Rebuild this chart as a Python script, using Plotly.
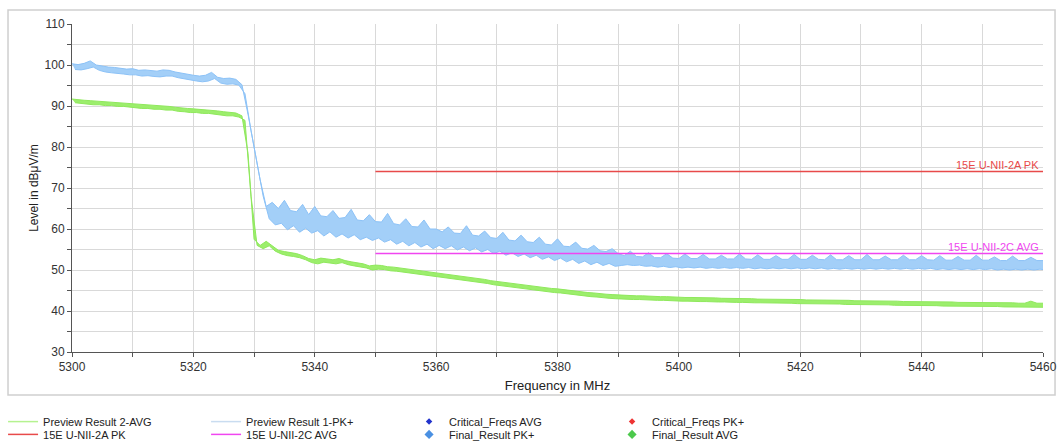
import plotly.graph_objects as go

freq = list(range(5300, 5461))

pk_upper = [
    100.3, 100.1, 100.4, 101.0, 100.0, 99.7, 99.5, 99.4, 99.2, 99.0,
    99.1, 98.7, 98.8, 98.6, 98.5, 98.8, 98.7, 98.3, 98.0, 97.7,
    97.5, 97.3, 97.5, 98.2, 97.0, 96.7, 96.8, 96.5, 95.2, 88.0,
    80.0, 72.0, 65.5, 66.5, 65.0, 67.0, 64.5, 64.2, 66.0, 63.5,
    65.5, 63.2, 63.0, 64.5, 62.6, 62.8, 64.8, 62.2, 62.0, 63.5,
    61.8, 61.7, 63.8, 61.3, 61.0, 62.5, 60.6, 60.5, 62.2, 60.0,
    60.0, 59.3, 60.5, 59.0, 58.9, 60.8, 58.5, 58.3, 59.5, 57.9,
    57.7, 59.2, 57.3, 57.1, 58.5, 56.9, 56.7, 58.0, 56.3, 56.1,
    57.6, 55.8, 55.7, 56.8, 55.3, 55.1, 56.0, 54.7, 54.5, 55.2,
    54.0, 53.5, 54.6, 53.3, 53.2, 54.2, 53.0, 53.0, 54.0, 52.9,
    52.8, 53.9, 52.8, 52.8, 53.8, 52.7, 52.7, 53.6, 52.7, 52.7,
    53.9, 52.7, 52.6, 53.7, 52.6, 52.6, 53.5, 52.6, 52.6, 53.8,
    52.6, 52.6, 53.6, 52.6, 52.5, 53.7, 52.5, 52.5, 53.5, 52.5,
    52.5, 53.8, 52.5, 52.5, 53.4, 52.5, 52.5, 53.6, 52.5, 52.5,
    53.5, 52.5, 52.4, 53.5, 52.4, 52.4, 53.3, 52.4, 52.4, 53.6,
    52.4, 52.4, 53.2, 52.3, 52.3, 53.4, 52.3, 52.3, 53.1, 52.3,
    52.3,
]
pk_lower = [
    98.9, 98.8, 99.1, 99.5, 98.7, 98.3, 98.1, 98.0, 97.8, 97.6,
    97.6, 97.3, 97.4, 97.2, 97.1, 97.3, 97.3, 96.9, 96.6, 96.3,
    96.1, 95.9, 96.1, 96.7, 95.6, 95.3, 95.4, 95.1, 93.0, 84.0,
    76.0, 68.0, 62.5, 61.0, 61.4, 59.8, 60.8, 59.2, 60.2, 59.0,
    59.6, 58.3, 59.3, 58.0, 58.8, 57.8, 58.6, 57.4, 58.0, 57.2,
    57.8, 56.8, 57.4, 56.3, 57.0, 55.9, 56.7, 55.6, 56.3, 55.2,
    56.0, 55.2, 55.9, 54.9, 55.6, 54.7, 55.4, 54.4, 55.0, 54.0,
    54.6, 53.6, 54.2, 53.3, 53.9, 53.0, 53.6, 52.6, 53.2, 52.3,
    52.9, 52.0, 52.6, 51.6, 52.2, 51.3, 51.9, 51.1, 51.6, 50.9,
    51.1, 51.3, 51.1, 51.2, 50.9, 51.0, 50.7, 50.9, 50.6, 50.8,
    50.5, 50.7, 50.5, 50.7, 50.4, 50.6, 50.4, 50.6, 50.4, 50.6,
    50.4, 50.6, 50.3, 50.5, 50.3, 50.5, 50.3, 50.5, 50.3, 50.5,
    50.3, 50.5, 50.3, 50.5, 50.2, 50.4, 50.2, 50.4, 50.2, 50.4,
    50.2, 50.4, 50.2, 50.4, 50.2, 50.4, 50.2, 50.4, 50.2, 50.4,
    50.2, 50.4, 50.1, 50.3, 50.1, 50.3, 50.1, 50.3, 50.1, 50.3,
    50.1, 50.3, 50.0, 50.2, 50.0, 50.2, 50.0, 50.2, 50.0, 50.2,
    50.0,
]

avg_upper = [
    91.7, 91.5, 91.4, 91.3, 91.2, 91.1, 91.0, 90.9, 90.8, 90.7,
    90.5, 90.4, 90.3, 90.2, 90.1, 90.0, 89.9, 89.7, 89.5, 89.4,
    89.3, 89.2, 89.1, 89.0, 88.8, 88.6, 88.5, 88.3, 87.6, 78.5,
    57.5, 56.0, 57.0, 55.8, 54.8, 54.5, 54.3, 54.0, 53.5, 52.8,
    52.5, 52.9, 52.7, 52.5, 52.8, 52.3, 52.0, 51.8, 51.5, 51.0,
    51.2, 51.1, 50.8, 50.7, 50.5, 50.3, 50.2, 50.0, 49.7, 49.5,
    49.3, 49.1, 48.9, 48.8, 48.5, 48.3, 48.1, 47.9, 47.7, 47.4,
    47.2, 47.0, 46.8, 46.6, 46.4, 46.2, 46.1, 45.9, 45.7, 45.5,
    45.4, 45.2, 45.0, 44.9, 44.7, 44.5, 44.4, 44.2, 44.1, 44.0,
    43.9, 43.8, 43.8, 43.7, 43.7, 43.6, 43.6, 43.5, 43.5, 43.4,
    43.4, 43.3, 43.3, 43.3, 43.2, 43.2, 43.2, 43.1, 43.1, 43.1,
    43.0, 43.0, 43.0, 42.9, 42.9, 42.9, 42.9, 42.8, 42.8, 42.8,
    42.8, 42.7, 42.7, 42.7, 42.7, 42.6, 42.6, 42.6, 42.6, 42.5,
    42.5, 42.5, 42.5, 42.4, 42.4, 42.4, 42.4, 42.3, 42.3, 42.3,
    42.3, 42.2, 42.2, 42.2, 42.2, 42.2, 42.1, 42.1, 42.1, 42.1,
    42.1, 42.0, 42.0, 42.0, 42.0, 42.0, 41.9, 41.9, 42.4, 41.9,
    41.9,
]
avg_lower = [
    90.8, 90.6, 90.5, 90.3, 90.3, 90.1, 90.1, 89.9, 89.9, 89.7,
    89.6, 89.4, 89.4, 89.2, 89.2, 89.0, 89.0, 88.7, 88.6, 88.4,
    88.4, 88.2, 88.2, 88.0, 87.9, 87.6, 87.6, 87.3, 86.5, 68.0,
    56.0, 55.2, 55.9, 54.6, 53.9, 53.5, 53.3, 53.0, 52.5, 51.8,
    51.5, 51.9, 51.7, 51.5, 51.8, 51.3, 51.0, 50.8, 50.5, 50.0,
    50.2, 50.1, 49.8, 49.7, 49.5, 49.3, 49.2, 49.0, 48.7, 48.5,
    48.3, 48.1, 47.9, 47.8, 47.5, 47.3, 47.1, 46.9, 46.7, 46.4,
    46.2, 46.0, 45.8, 45.6, 45.4, 45.2, 45.1, 44.9, 44.7, 44.5,
    44.4, 44.2, 44.0, 43.9, 43.7, 43.5, 43.4, 43.2, 43.1, 43.0,
    42.9, 42.9, 42.8, 42.8, 42.7, 42.7, 42.6, 42.6, 42.5, 42.5,
    42.4, 42.4, 42.3, 42.3, 42.3, 42.2, 42.2, 42.2, 42.1, 42.1,
    42.1, 42.0, 42.0, 42.0, 42.0, 41.9, 41.9, 41.9, 41.9, 41.8,
    41.8, 41.8, 41.8, 41.7, 41.7, 41.7, 41.7, 41.6, 41.6, 41.6,
    41.6, 41.5, 41.5, 41.5, 41.5, 41.4, 41.4, 41.4, 41.4, 41.3,
    41.3, 41.3, 41.3, 41.2, 41.2, 41.2, 41.2, 41.2, 41.1, 41.1,
    41.1, 41.1, 41.1, 41.0, 41.0, 41.0, 41.0, 41.0, 40.9, 40.9,
    40.9,
]

limit_freq = [5350, 5460]
limit_2a_pk = [74, 74]
limit_2c_avg = [54, 54]

x_ticks = list(range(5300, 5461, 10))
x_ticktext = [str(v) if (v - 5300) % 20 == 0 else "" for v in x_ticks]
y_ticks = list(range(30, 111, 5))
y_ticktext = [str(v) if v % 10 == 0 else "" for v in y_ticks]

C_GREEN = "#8fe85c"
C_GREEN_FILL = "#9cee6c"
C_BLUE = "#8cc2f7"
C_BLUE_FILL = "#a3cff8"
C_RED = "#e84a4a"
C_MAG = "#f046f0"
FONT = "Liberation Sans, Arial, sans-serif"

# lower envelope sampled half a step after the upper envelope
freq_lo = [f + 0.5 for f in freq]

fig = go.Figure()

# PK+ band
fig.add_trace(go.Scatter(x=freq_lo, y=pk_lower, mode="lines", line=dict(color=C_BLUE, width=1),
                         showlegend=False, hoverinfo="skip"))
fig.add_trace(go.Scatter(x=freq, y=pk_upper, mode="lines", line=dict(color=C_BLUE, width=1),
                         fill="tonexty", fillcolor=C_BLUE_FILL, showlegend=False))
# AVG band
fig.add_trace(go.Scatter(x=freq_lo, y=avg_lower, mode="lines", line=dict(color=C_GREEN, width=1),
                         showlegend=False, hoverinfo="skip"))
fig.add_trace(go.Scatter(x=freq, y=avg_upper, mode="lines", line=dict(color=C_GREEN, width=1),
                         fill="tonexty", fillcolor=C_GREEN_FILL, showlegend=False))

# limit lines
fig.add_trace(go.Scatter(x=limit_freq, y=limit_2a_pk, mode="lines", line=dict(color=C_RED, width=1.5),
                         showlegend=False))
fig.add_trace(go.Scatter(x=limit_freq, y=limit_2c_avg, mode="lines", line=dict(color=C_MAG, width=1.5),
                         showlegend=False))

# legend entries
def leg_line(name, color, legend):
    return go.Scatter(x=[None], y=[None], mode="lines", line=dict(color=color, width=1.5),
                      name=name, legend=legend)

def leg_marker(name, color, size, legend):
    return go.Scatter(x=[None], y=[None], mode="markers",
                      marker=dict(color=color, symbol="diamond", size=size),
                      name=name, legend=legend)

fig.add_trace(leg_line("Preview Result 2-AVG", "#b5f290", "legend"))
fig.add_trace(leg_line("Preview Result 1-PK+", "#c9dcf0", "legend"))
fig.add_trace(leg_marker("Critical_Freqs AVG", "#2233cc", 5, "legend"))
fig.add_trace(leg_marker("Critical_Freqs PK+", "#ee3333", 5, "legend"))
fig.add_trace(leg_line("15E U-NII-2A PK", C_RED, "legend2"))
fig.add_trace(leg_line("15E U-NII-2C AVG", C_MAG, "legend2"))
fig.add_trace(leg_marker("Final_Result PK+", "#4a90e2", 7, "legend2"))
fig.add_trace(leg_marker("Final_Result AVG", "#4cc94c", 7, "legend2"))

fig.add_annotation(x=limit_freq[1], y=limit_2a_pk[1], xref="x", yref="y", text="15E U-NII-2A PK",
                   showarrow=False, xanchor="right", yanchor="bottom", yshift=-1, xshift=-2,
                   font=dict(family=FONT, size=11, color=C_RED))
fig.add_annotation(x=limit_freq[1], y=limit_2c_avg[1], xref="x", yref="y", text="15E U-NII-2C AVG",
                   showarrow=False, xanchor="right", yanchor="bottom", yshift=-1, xshift=-2,
                   font=dict(family=FONT, size=11, color=C_MAG))

fig.add_shape(type="rect", xref="paper", yref="paper", x0=-0.0659, x1=1.0124, y0=-0.131, y1=1.0427,
              line=dict(color="#cfcfcf", width=1.5), layer="below")

axis_common = dict(showgrid=True, gridcolor="#d9d9d9", gridwidth=1, showline=True,
                   linecolor="#555555", linewidth=1, ticks="outside", ticklen=4,
                   tickcolor="#555555", zeroline=False, automargin=False,
                   tickfont=dict(family=FONT, size=12, color="#333333"))

fig.update_xaxes(range=[5300, 5460], tickvals=x_ticks, ticktext=x_ticktext,
                 title=dict(text="Frequency in MHz", font=dict(family=FONT, size=13, color="#222222"),
                            standoff=7),
                 **axis_common)
fig.update_yaxes(range=[30, 110], tickvals=y_ticks, ticktext=y_ticktext,
                 title=dict(text="Level in dBμV/m", font=dict(family=FONT, size=12, color="#222222"),
                            standoff=3),
                 **axis_common)

legend_common = dict(orientation="h", xanchor="left", yanchor="top", x=-0.071,
                     entrywidth=158, entrywidthmode="pixels", bgcolor="rgba(0,0,0,0)",
                     font=dict(family=FONT, size=11, color="#222222"), itemwidth=30,
                     tracegroupgap=0, traceorder="normal")
fig.update_layout(
    width=1058, height=444,
    margin=dict(l=72, r=15, t=24, b=92, autoexpand=False),
    paper_bgcolor="white", plot_bgcolor="white",
    showlegend=True,
    legend=dict(y=-0.168, **legend_common),
    legend2=dict(y=-0.207, **legend_common),
)

fig.write_html(
    "out.html",
    config={"displayModeBar": False},
    post_script="document.body.style.margin='0';document.body.style.overflow='hidden';",
)
